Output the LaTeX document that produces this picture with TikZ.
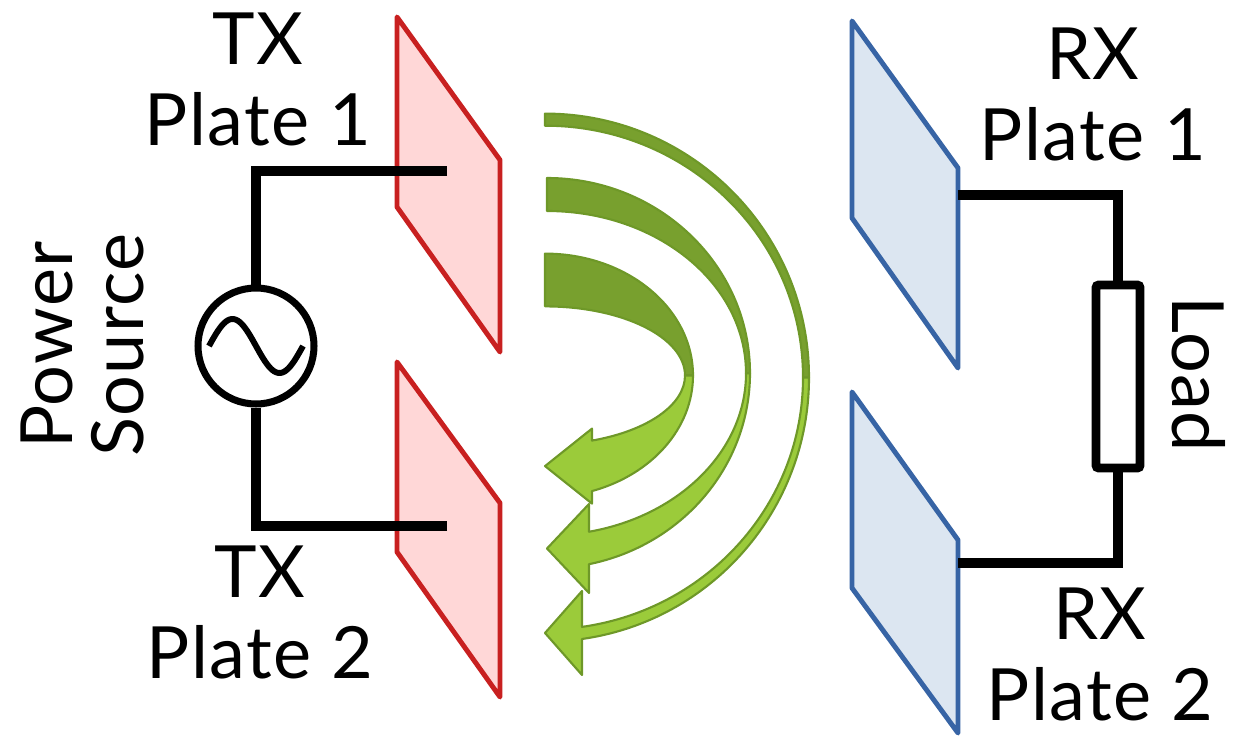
\documentclass[tikz,border=0pt]{standalone}
\usepackage{fontspec}
\setmainfont[LetterSpace=2]{Lato}
\usepackage{tikz}
\usetikzlibrary{shapes.geometric, positioning}

\definecolor{txred}{RGB}{200,32,32}
\definecolor{txpink}{RGB}{255,215,215}
\definecolor{rxblue}{RGB}{55,100,165}
\definecolor{rxpale}{RGB}{220,230,241}
\definecolor{darkgrn}{RGB}{120,160,46}
\definecolor{lightgrn}{RGB}{155,203,58}
\definecolor{edgegrn}{RGB}{110,152,40}

\tikzstyle{txplate} = [draw=txred, fill=txpink, line width=2.8pt, line join=round]
\tikzstyle{rxplate} = [draw=rxblue, fill=rxpale, line width=2.8pt, line join=round]
\tikzstyle{wire} = [line width=5.6pt]
\tikzstyle{platetext} = [align=center, inner sep=0pt, font=\fontsize{41}{46}\selectfont]
\tikzstyle{backband} = [fill=darkgrn, draw=edgegrn, line width=1.2pt, line join=round]
\tikzstyle{frontband} = [fill=lightgrn, draw=edgegrn, line width=1.2pt, line join=round]

% twisted field arrow: tail x, centre y, outer rx/ry, inner rx/ry, head base x, barb y top/bottom
\newcommand{\fieldarrow}[9]{%
\draw[backband] (#1,{#2-#4}) arc[start angle=-90, end angle=0, x radius=#3, y radius=#4]
  -- ({#1+#5},#2) arc[start angle=0, end angle=-90, x radius=#5, y radius=#6] -- cycle;
\draw[frontband] ({#1+#3},#2) arc[start angle=0, end angle={acos((#7-#1)/#3)}, x radius=#3, y radius=#4]
  -- (#7,#9) -- (#1,{(#8+#9)/2}) -- (#7,#8)
  -- (#7,{#2+#6*sin(acos((#7-#1)/#5))}) arc[start angle={acos((#7-#1)/#5)}, end angle=0, x radius=#5, y radius=#6]
  -- cycle;}

\begin{document}
\begin{tikzpicture}[x=0.02cm, y=-0.02cm]
\useasboundingbox (0,0) rectangle (1248,737);

% transmitter side
\draw [txplate] (397,17) -- (500,160) -- (500,352) -- (397,207) -- cycle;
\draw [txplate] (397,362) -- (500,503) -- (500,697) -- (397,552) -- cycle;

\node (src) [circle, draw, line width=4pt, minimum size=2.32cm, inner sep=0pt] at (256,346) {};
\draw [line width=3.4pt] plot[domain=-47:47, samples=60, smooth] ({256+\x},{346-27*sin((\x+47)/94*360)});
\coordinate (tx1) at (447,171);
\coordinate (tx2) at (447,526);
\draw [wire] (tx1) -| (src.north);
\draw [wire] (tx2) -| (src.south);

% receiver side
\draw [rxplate] (852,21) -- (958,168) -- (958,368) -- (852,218) -- cycle;
\draw [rxplate] (852,392) -- (958,540) -- (958,733) -- (852,588) -- cycle;

\node (load) [draw, line width=5pt, minimum width=0.88cm, minimum height=3.66cm, rounded corners=1.5pt, inner sep=0pt] at (1118,376.5) {};
\coordinate (rx1) at (958,195);
\coordinate (rx2) at (958,563);
\draw [wire] (rx1) -| (load.north);
\draw [wire] (rx2) -| (load.south);

% coupling field
\fieldarrow{545}{377.6}{264}{264}{258}{251.9}{582}{591}{675}
\fieldarrow{547}{373.2}{203}{195.2}{199}{162.2}{589}{504}{593}
\fieldarrow{545}{375.5}{148}{121.9}{140}{69.1}{592}{428.6}{503.6}

% labels (base = baseline of the last line)
\node (txa) [platetext, anchor=base] at (258,145) {TX\\Plate 1};
\node (txb) [platetext, anchor=base] at (260,678) {TX\\Plate 2};
\node (rxa) [platetext, anchor=base] at (1093,160) {RX\\Plate 1};
\node (rxb) [platetext, anchor=base] at (1100,720) {RX\\Plate 2};
\node (srctext) [platetext, rotate=90, anchor=base, font=\fontsize{41}{40}\selectfont] at (143,345) {Power\\Source};
\node (loadtext) [platetext, rotate=-90, anchor=base] at (1172,374) {Load};

\end{tikzpicture}
\end{document}
